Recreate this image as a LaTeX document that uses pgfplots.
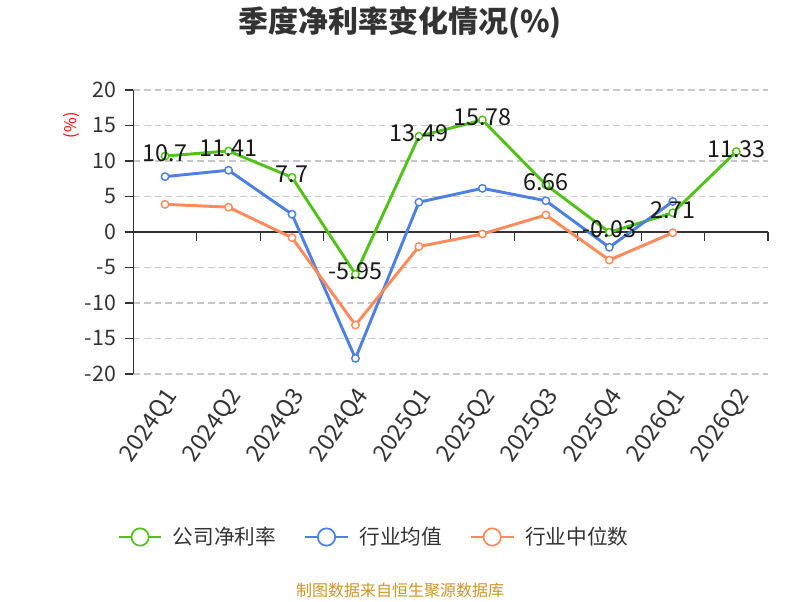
\documentclass[border=0pt]{standalone}
\usepackage{fontspec}
\setmainfont{Noto Sans CJK SC}
\usepackage{pgfplots}
\pgfplotsset{compat=1.18}
\usepackage{pgfplotstable}
\definecolor{cg}{RGB}{82,194,26}
\definecolor{cb}{RGB}{78,128,226}
\definecolor{co}{RGB}{255,138,90}
\definecolor{axgray}{RGB}{51,51,51}
\definecolor{gridgray}{RGB}{200,200,200}
\definecolor{srcgold}{RGB}{200,150,40}

\pgfplotstableread{
x y lab
0 10.7 10.7
1 11.41 11.41
2 7.7 7.7
3 -5.95 -5.95
4 13.49 13.49
5 15.78 15.78
6 6.66 6.66
7 -0.03 -0.03
8 2.71 2.71
9 11.33 11.33
}\company
\pgfplotstableread{
x y
0 7.8
1 8.7
2 2.5
3 -17.8
4 4.2
5 6.15
6 4.4
7 -2.15
8 4.3
}\indavg
\pgfplotstableread{
x y
0 3.9
1 3.5
2 -0.8
3 -13.1
4 -2.05
5 -0.28
6 2.4
7 -3.95
8 -0.1
}\indmed

\begin{document}
\begin{tikzpicture}
\path (0,0) rectangle (600pt,450pt);
\node[font=\fontsize{22.5}{26}\selectfont\bfseries, text=axgray] at (300pt,433pt) {季度净利率变化情况(\%)};
\node[font=\fontsize{12}{14}\selectfont, text=srcgold] at (300pt,7.5pt) {制图数据来自恒生聚源数据库};
\node[font=\fontsize{12}{14}\selectfont, text=red, rotate=90] at (54pt,356pt) {(\%)};
\begin{axis}[
  at={(100pt,169.5pt)}, anchor=south west,
  scale only axis, width=476pt, height=213pt,
  xmin=-0.5, xmax=9.5, ymin=-20, ymax=20,
  ytick={-20,-15,...,20},
  xtick={0,...,9},
  xticklabels={2024Q1,2024Q2,2024Q3,2024Q4,2025Q1,2025Q2,2025Q3,2025Q4,2026Q1,2026Q2},
  axis y line*=left, axis x line*=bottom,
  x axis line style={draw=none},
  y axis line style={axgray, line width=0.8pt},
  xtick style={draw=none},
  ytick style={axgray, line width=0.8pt},
  major tick length=6.5pt, tick align=outside,
  ymajorgrids, grid style={gridgray, dash pattern=on 5pt off 3pt, line width=0.8pt},
  /pgf/number format/assume math mode=true,
  yticklabel style={font=\fontsize{16}{18}\selectfont, text=axgray, xshift=-3pt},
  xticklabel style={font=\fontsize{17.5}{19}\selectfont, text=axgray, rotate=55, anchor=east, yshift=-9pt, xshift=1pt},
  legend columns=3,
  legend style={at={(0.38,-0.574)}, anchor=center, draw=none, fill=none,
    font=\fontsize{15.5}{17}\selectfont, text=axgray,
    /tikz/every odd column/.append style={column sep=6pt},
    /tikz/every even column/.append style={column sep=19pt}},
  legend image code/.code={
    \draw[#1, mark=none, line width=1.3pt] (0pt,0pt) -- (32pt,0pt);
    \draw[#1, mark=none, fill=white, line width=1.3pt] (16pt,0pt) circle (6.5pt);},
  clip=false,
]
\draw[axgray, line width=0.8pt] (axis cs:-0.5,0) -- (axis cs:9.5,0);
\pgfplotsinvokeforeach{-0.5,0.5,1.5,2.5,3.5,4.5,5.5,6.5,7.5,8.5,9.5}{
  \draw[axgray, line width=0.8pt] (axis cs:#1,0) -- ++(0pt,-6.5pt);
}
\addplot[cg, line width=2.2pt, mark=*, mark size=2.8pt, mark options={fill=white, draw=cg, line width=1.1pt}] table[x=x,y=y]{\company};
\addlegendentry{公司净利率}
\addplot[cb, line width=2.2pt, mark=*, mark size=2.8pt, mark options={fill=white, draw=cb, line width=1.1pt}] table[x=x,y=y]{\indavg};
\addlegendentry{行业均值}
\addplot[co, line width=2.2pt, mark=*, mark size=2.8pt, mark options={fill=white, draw=co, line width=1.1pt}] table[x=x,y=y]{\indmed};
\addlegendentry{行业中位数}
\addplot[draw=none, mark=none, forget plot, nodes near coords, point meta=explicit symbolic,
  nodes near coords style={anchor=center, yshift=2pt, font=\fontsize{17.5}{19}\selectfont, text=black!90}]
  table[x=x,y=y,meta=lab]{\company};
\end{axis}
\end{tikzpicture}
\end{document}
